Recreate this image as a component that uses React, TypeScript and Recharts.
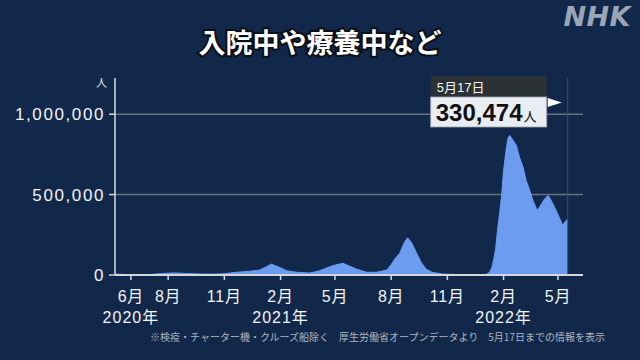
import React from "react";
import {
  AreaChart,
  Area,
  XAxis,
  YAxis,
  CartesianGrid,
  ReferenceLine,
} from "recharts";

// 入院中や療養中など
const dates = [
  "2020-05-06", "2020-05-20", "2020-06-01", "2020-06-20", "2020-07-02", "2020-07-18",
  "2020-08-08", "2020-08-29", "2020-09-22", "2020-10-17", "2020-10-29", "2020-11-21",
  "2020-12-12", "2020-12-29", "2021-01-09", "2021-01-17", "2021-01-31", "2021-02-11",
  "2021-02-27", "2021-03-21", "2021-04-06", "2021-04-27", "2021-05-14", "2021-06-05",
  "2021-06-22", "2021-07-08", "2021-07-25", "2021-08-01", "2021-08-07", "2021-08-15",
  "2021-08-23", "2021-08-28", "2021-09-03", "2021-09-11", "2021-09-19", "2021-09-27",
  "2021-10-07", "2021-10-24", "2021-11-21", "2021-12-23", "2022-01-04", "2022-01-09",
  "2022-01-13", "2022-01-16", "2022-01-19", "2022-01-22", "2022-01-26", "2022-01-29",
  "2022-02-01", "2022-02-05", "2022-02-08", "2022-02-11", "2022-02-16", "2022-02-22",
  "2022-02-27", "2022-03-05", "2022-03-10", "2022-03-16", "2022-03-21", "2022-03-27",
  "2022-03-29", "2022-04-04", "2022-04-09", "2022-04-15", "2022-04-20", "2022-04-26",
  "2022-05-03", "2022-05-09", "2022-05-12", "2022-05-16", "2022-05-17",
];
const patients = [
  6000, 3500, 2000, 1500, 2500, 8000,
  13000, 10000, 6000, 5500, 7000, 17000,
  23000, 31000, 52000, 68000, 46000, 27000,
  17000, 12000, 27000, 58000, 73000, 37000,
  17000, 17000, 31000, 65000, 100000, 135000,
  205000, 231000, 204000, 141000, 79000, 37000,
  17000, 6000, 2000, 2000, 4000, 17000,
  48000, 100000, 162000, 277000, 400000, 505000,
  650000, 775000, 847000, 868000, 841000, 805000,
  733000, 670000, 587000, 525000, 464000, 411000,
  405000, 442000, 473000, 494000, 464000, 417000,
  359000, 307000, 328000, 344000, 330474,
];
const tickDates = [
  "2020-06-01", "2020-08-01", "2020-11-01", "2021-02-01", "2021-05-01",
  "2021-08-01", "2021-11-01", "2022-02-01", "2022-05-01",
];
const yearTicks: Record<string, string> = {
  "2020-06-01": "2020年",
  "2021-02-01": "2021年",
  "2022-02-01": "2022年",
};
const yTicks = [0, 500000, 1000000];
const latestDate = "2022-05-17";
const latestLabel = "5月17日";
const latestValue = "330,474";

const toTime = (s: string) => Date.parse(s + "T00:00:00Z");
const data = dates.map((d, i) => ({ t: toTime(d), v: patients[i] }));

const FONT = '"Liberation Sans", "Noto Sans CJK JP", sans-serif';
const BG = "#12284a";

const MonthTick = (props: any) => {
  const { x, y, payload } = props;
  const d = new Date(payload.value);
  const key = d.toISOString().slice(0, 10);
  const year = yearTicks[key];
  return (
    <g>
      <text x={x} y={y} dy={20} textAnchor="middle" fill="#f2f4f7" fontSize={16} letterSpacing={0.8} fontFamily={FONT}>
        {d.getUTCMonth() + 1}月
      </text>
      {year && (
        <text x={x} y={y} dy={41} textAnchor="middle" fill="#f2f4f7" fontSize={16} letterSpacing={1} fontFamily={FONT}>
          {year}
        </text>
      )}
    </g>
  );
};

const ValueTick = (props: any) => {
  const { x, y, payload } = props;
  return (
    <text x={x} y={y} dy={6} textAnchor="end" fill="#f2f4f7" fontSize={17} letterSpacing={1.6} fontFamily={FONT}>
      {payload.value.toLocaleString("en-US")}
    </text>
  );
};

// flag box at the latest date, hung off the reference line
const FlagLabel = (props: any) => {
  const vb = props.viewBox || {};
  const lx = vb.x ?? 0;
  const top = vb.y ?? 0;
  const right = lx - 21;
  const left = right - 116;
  return (
    <g fontFamily={FONT}>
      <rect x={left} y={top - 2} width={116} height={21} fill="#2b3236" />
      <text x={left + 6} y={top + 14} fill="#f4f4f4" fontSize={13}>
        {latestLabel}
      </text>
      <rect x={left} y={top + 19} width={116} height={30} fill="#e9edf1" stroke="#9aa3ad" strokeWidth={0.8} />
      <text x={left + 5} y={top + 43} fill="#111" fontSize={24} fontWeight={700}>
        {latestValue}
        <tspan fontSize={13} fontWeight={400} dx={1}>人</tspan>
      </text>
      <polygon points={`${right + 1},${top + 20} ${right + 15},${top + 24.5} ${right + 1},${top + 29}`} fill="#ffffff" />
    </g>
  );
};

export default function App() {
  return (
    <div style={{ position: "absolute", left: 0, top: 0, width: 640, height: 360, background: BG, overflow: "hidden" }}>
      <div
        style={{
          position: "absolute",
          left: 0,
          width: 640,
          top: 24,
          textAlign: "center",
          color: "#fff",
          fontSize: 27,
          fontWeight: 700,
          fontFamily: '"Noto Sans CJK JP", sans-serif',
          lineHeight: "36px",
          WebkitTextStroke: "4px #0a0f18",
          paintOrder: "stroke fill",
        }}
      >
        入院中や療養中など
      </div>
      <div
        style={{
          position: "absolute",
          right: 9,
          top: 1,
          color: "#9aa6b7",
          fontSize: 27,
          fontWeight: 700,
          fontStyle: "italic",
          fontFamily: '"DejaVu Sans", sans-serif',
          lineHeight: "32px",
          letterSpacing: 0.5,
        }}
      >
        NHK
      </div>
      <div
        style={{
          position: "absolute",
          left: 96,
          top: 74,
          color: "#e8ebef",
          fontSize: 11,
          fontFamily: '"Noto Sans CJK JP", sans-serif',
          lineHeight: "16px",
        }}
      >
        人
      </div>
      <div
        style={{
          position: "absolute",
          left: 150,
          top: 330,
          color: "#aeb6c2",
          fontSize: 10,
          fontFamily: '"Noto Sans CJK JP", sans-serif',
          lineHeight: "14px",
          whiteSpace: "nowrap",
        }}
      >
        ※検疫・チャーター機・クルーズ船除く　厚生労働省オープンデータより　5月17日までの情報を表示
      </div>
      <div style={{ position: "absolute", left: 0, top: 0 }}>
        <AreaChart width={640} height={360} data={data} margin={{ top: 78, right: 57, left: 0, bottom: 25 }}>
          <CartesianGrid vertical={false} stroke="#69707d" strokeWidth={1.5} horizontalValues={[500000, 1000000]} />
          <XAxis
            dataKey="t"
            type="number"
            scale="time"
            domain={[toTime("2020-05-06"), toTime("2022-06-11")]}
            ticks={tickDates.map(toTime)}
            interval={0}
            height={60}
            tick={<MonthTick />}
            tickSize={5}
            axisLine={{ stroke: "#d4d8de", strokeWidth: 2 }}
            tickLine={{ stroke: "#d4d8de", strokeWidth: 1.5 }}
          />
          <YAxis
            dataKey="v"
            type="number"
            width={115}
            domain={[0, 1225000]}
            ticks={yTicks}
            interval={0}
            tick={<ValueTick />}
            tickSize={6}
            tickMargin={4}
            axisLine={{ stroke: "#d4d8de", strokeWidth: 1.5 }}
            tickLine={{ stroke: "#d4d8de", strokeWidth: 1.5 }}
          />
          <Area
            type="linear"
            dataKey="v"
            stroke="#6b9cf0"
            strokeWidth={1}
            fill="#6b9cf0"
            fillOpacity={1}
            isAnimationActive={false}
            dot={false}
            activeDot={false}
          />
          <ReferenceLine
            x={toTime(latestDate)}
            stroke="#3c5070"
            strokeWidth={1}
            label={<FlagLabel />}
          />
        </AreaChart>
      </div>
    </div>
  );
}
